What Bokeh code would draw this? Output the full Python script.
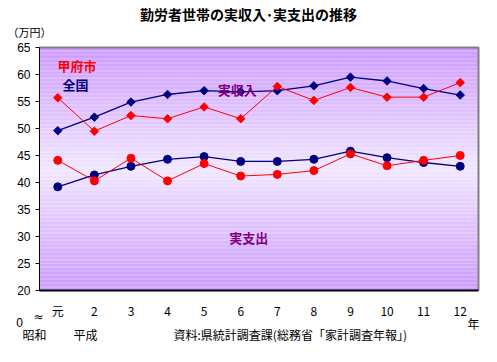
from bokeh.plotting import figure
from bokeh.models import Range1d, FixedTicker, Label, ColumnDataSource
from bokeh.embed import file_html
from bokeh.resources import INLINE

# ---- data ----
years = ["元", "2", "3", "4", "5", "6", "7", "8", "9", "10", "11", "12"]
kofu_income = [55.7, 49.5, 52.4, 51.8, 54.0, 51.8, 57.8, 55.2, 57.6, 55.8, 55.8, 58.5]
japan_income = [49.6, 52.1, 54.9, 56.3, 57.0, 56.8, 57.0, 57.9, 59.5, 58.8, 57.4, 56.2]
kofu_expense = [44.1, 40.3, 44.5, 40.3, 43.5, 41.2, 41.5, 42.2, 45.3, 43.1, 44.1, 45.0]
japan_expense = [39.2, 41.4, 43.0, 44.3, 44.8, 43.9, 43.9, 44.3, 45.8, 44.6, 43.7, 43.0]
y_ticks = [20, 25, 30, 35, 40, 45, 50, 55, 60, 65]
y_min, y_max = 20, 65

RED = "#FF0000"
NAVY = "#000080"
PURPLE = "#800080"
JP = "Noto Sans CJK JP"
W, H = 481, 346

# plot area inside the canvas (pixels): left, right, top, bottom
PL, PR, PT, PB = 39, 478, 47, 290
n_cat = len(years)
xs = list(range(n_cat))
x_lo, x_hi = -0.5, n_cat - 0.5
ppx = (PR - PL) / n_cat
ppy = (PB - PT) / (y_max - y_min)
xr = Range1d(x_lo - PL / ppx, x_hi + (W - PR) / ppx)
yr = Range1d(y_min - (H - PB) / ppy, y_max + PT / ppy)

p = figure(width=W, height=H, output_backend="svg", toolbar_location=None,
           x_range=xr, y_range=yr, title=None,
           min_border_left=0, min_border_right=0, min_border_top=0, min_border_bottom=0)
p.background_fill_color = "white"
p.border_fill_color = "white"
p.outline_line_color = None
p.xgrid.visible = False
p.ygrid.visible = False

# gradient background (light centre, lavender edges)
n = 180
step = (y_max - y_min) / n
ys, cols = [], []
c_edge = (204, 153, 255)
c_mid = (241, 230, 255)
for i in range(n):
    yc = y_min + (i + 0.5) * step
    t = abs(yc - (y_min + y_max) / 2) / ((y_max - y_min) / 2)
    rgb = [round(c_mid[k] + (c_edge[k] - c_mid[k]) * t) for k in range(3)]
    ys.append(yc)
    cols.append("#%02x%02x%02x" % tuple(rgb))
p.hbar(y=ys, height=step * 1.1, left=x_lo, right=x_hi, fill_color=cols, line_color=None)
# grey top/right border of plot area
p.line(x=[x_lo, x_hi, x_hi], y=[y_max, y_max, y_min], line_color="#808080", line_width=2)

src = ColumnDataSource(dict(x=xs, ki=kofu_income, ji=japan_income, ke=kofu_expense, je=japan_expense))

p.line("x", "ji", source=src, line_color=NAVY, line_width=1.3)
p.scatter("x", "ji", source=src, marker="square", angle=0.7854, size=6, fill_color=NAVY, line_color=NAVY)
p.line("x", "ki", source=src, line_color=RED, line_width=1)
p.scatter("x", "ki", source=src, marker="square", angle=0.7854, size=6, fill_color=RED, line_color=RED)
p.line("x", "je", source=src, line_color=NAVY, line_width=1.3)
p.scatter("x", "je", source=src, marker="circle", size=8, fill_color=NAVY, line_color=NAVY)
p.line("x", "ke", source=src, line_color=RED, line_width=1)
p.scatter("x", "ke", source=src, marker="circle", size=8, fill_color=RED, line_color=RED)

# axes, fixed at the plot-area edges
ya = p.yaxis[0]
ya.fixed_location = x_lo
ya.bounds = (y_min, y_max)
ya.ticker = FixedTicker(ticks=y_ticks)
ya.minor_tick_line_color = None
ya.major_tick_out = 4
ya.major_tick_in = 0
ya.axis_line_color = "black"
ya.axis_line_width = 1
ya.major_label_standoff = 5
ya.major_label_text_font = "Liberation Sans"
ya.major_label_text_font_size = "12px"
ya.major_label_text_color = "black"

xa = p.xaxis[0]
xa.fixed_location = y_min
xa.bounds = (x_lo, x_hi)
xa.ticker = FixedTicker(ticks=xs)
xa.major_label_overrides = {i: lab for i, lab in zip(xs, years)}
xa.minor_tick_line_color = None
xa.major_tick_out = 0
xa.major_tick_in = 0
xa.axis_line_color = "black"
xa.axis_line_width = 2
xa.major_label_standoff = 11
xa.major_label_text_font = JP
xa.major_label_text_font_size = "12px"
xa.major_label_text_color = "black"

# texts outside the plot area, in canvas pixels (top-left origin, converted)
def lab(x, y, text, color="black", size="12px", bold=False, align="left", font=JP):
    p.add_layout(Label(x=x, y=H - y, x_units="screen", y_units="screen", text=text,
                       text_color=color, text_font=font,
                       text_font_size=size, text_font_style="bold" if bold else "normal",
                       text_align=align, text_baseline="middle"))

# texts inside the plot area, in data units
def dlab(x, y, text, color):
    p.add_layout(Label(x=x, y=y, text=text, text_color=color, text_font=JP,
                       text_font_size="13px", text_font_style="bold",
                       text_align="left", text_baseline="middle"))

lab(248, 13, "勤労者世帯の実収入･実支出の推移", bold=True, size="14px", align="center")
lab(7, 31, "（万円）", size="11px")
dlab(-0.01, 61.75, "甲府市", RED)
dlab(0.13, 58.1, "全国", NAVY)
dlab(4.37, 57.2, "実収入", PURPLE)
dlab(4.69, 29.8, "実支出", PURPLE)
lab(19, 322, "0", size="12px", align="center", font="Liberation Sans")
lab(38, 316, "≈", size="12px", align="center", font="DejaVu Sans")
lab(22, 334, "昭和", size="12px")
lab(73, 334, "平成", size="12px")
lab(173, 334, "資料:県統計調査課(総務省「家計調査年報」)", size="12px")
lab(467, 323, "年", size="12px")

open("out.html", "w").write(file_html(p, INLINE))
